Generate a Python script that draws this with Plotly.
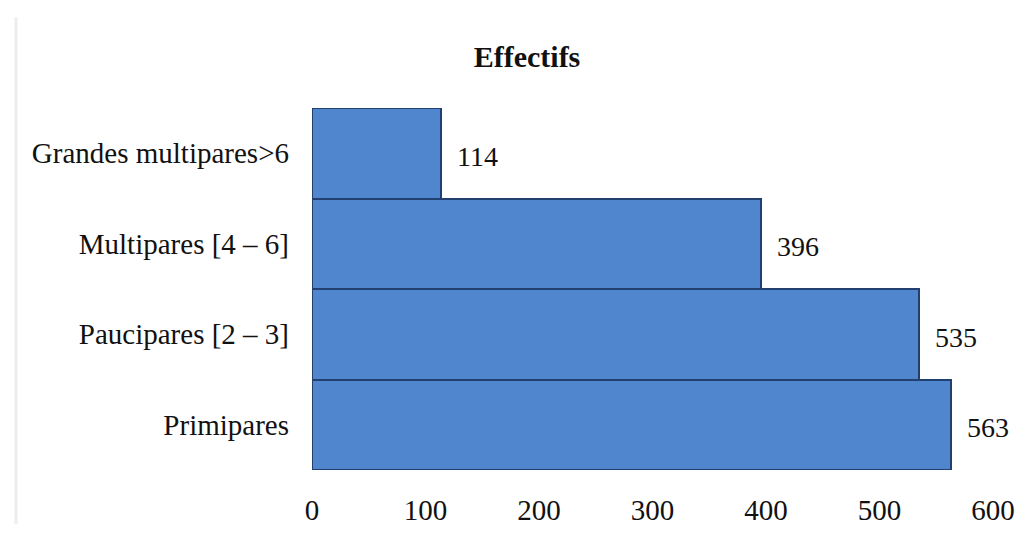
import plotly.graph_objects as go

# Effectifs par parité
categories = ["Primipares", "Paucipares [2 – 3]", "Multipares [4 – 6]", "Grandes multipares>6"]
effectifs = [563, 535, 396, 114]
x_ticks = [0, 100, 200, 300, 400, 500, 600]

SERIF = "Liberation Serif, Times New Roman, serif"

fig = go.Figure(
    go.Bar(
        y=categories,
        x=effectifs,
        orientation="h",
        marker=dict(color="#4F86CD", line=dict(color="#22406F", width=2)),
        hoverinfo="x+y",
    )
)

# value labels placed just right of each bar end
for cat, val in zip(categories, effectifs):
    fig.add_annotation(
        x=val, y=cat, xref="x", yref="y",
        text=str(val), showarrow=False,
        xanchor="left", xshift=14, yshift=-3,
        font=dict(family=SERIF, size=28, color="#111111"),
    )

fig.update_layout(
    width=1028, height=540,
    margin=dict(l=312, r=35, t=108, b=70),
    paper_bgcolor="white", plot_bgcolor="white",
    bargap=0,
    showlegend=False,
    title=dict(
        text="<b>Effectifs</b>",
        x=527 / 1028, xref="container", xanchor="center",
        y=1 - 56 / 540, yref="container", yanchor="middle",
        font=dict(family=SERIF, size=30, color="#111111"),
    ),
    xaxis=dict(
        range=[0, 600], tickvals=x_ticks, ticktext=[str(v) for v in x_ticks],
        showgrid=False, zeroline=False, showline=False, ticks="",
        tickfont=dict(family=SERIF, size=29, color="#111111"),
        ticklabelstandoff=20,
    ),
    yaxis=dict(
        categoryorder="array", categoryarray=categories,
        showgrid=False, zeroline=False, showline=False, ticks="",
        tickfont=dict(family=SERIF, size=29, color="#111111"),
        ticklabelstandoff=22,
    ),
    shapes=[
        dict(type="line", xref="paper", yref="paper",
             x0=(16 - 312) / 681, x1=(16 - 312) / 681, y0=-0.15, y1=1.25,
             line=dict(color="#EDEDED", width=3)),
    ],
)

fig.write_html("out.html")
